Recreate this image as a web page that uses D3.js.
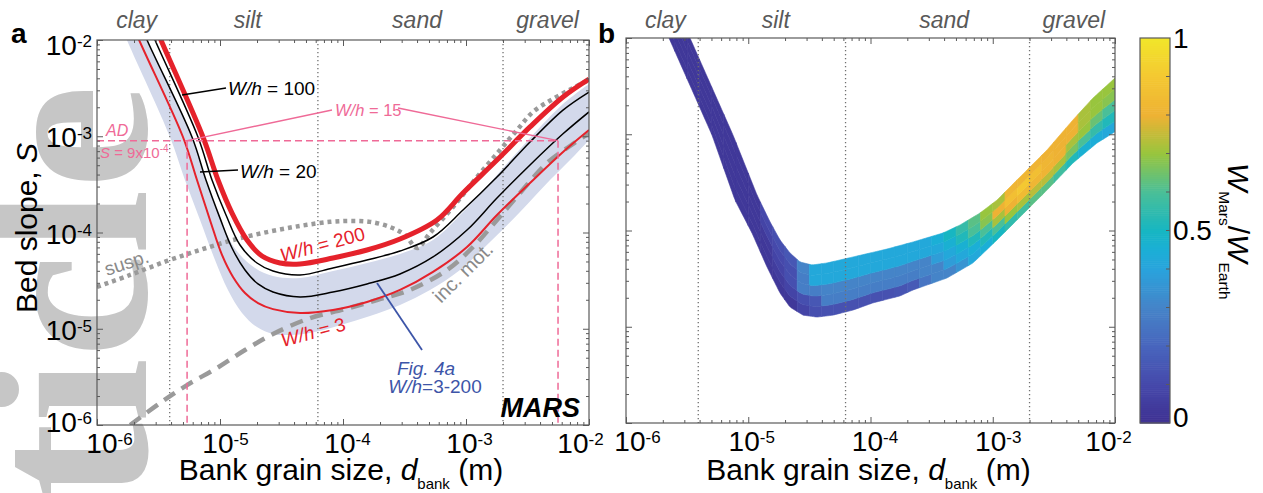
<!DOCTYPE html>
<html><head><meta charset="utf-8">
<script src="https://cdn.jsdelivr.net/npm/d3@7"></script>
<style>
html,body{margin:0;padding:0;background:#fff;}
svg{display:block;}
</style></head><body>
<svg id="chart" width="1263" height="493" font-family="Liberation Sans, Arial, sans-serif"></svg>
<script>
// ---------------- DATA ----------------
const categories = ["clay","silt","sand","gravel"];
const categoryBoundsD = [3.9e-6, 6.25e-5, 2e-3];
const categoryLabelD = [2.1e-6, 1.68e-5, 4.0e-4, 4.6e-3];
const majorTicks = [1e-6,1e-5,1e-4,1e-3,1e-2];
const tickExponents = ["-6","-5","-4","-3","-2"];

// W/h = 3 (thin red)
const wh3D = [1.60e-6,2.20e-6,5.00e-6,6.50e-6,8.29e-6,1.038e-5,1.276e-5,1.597e-5,2.037e-5,2.697e-5,4.472e-5,8.291e-5,1.567e-4,2.907e-4,5.392e-4,1.019e-3,1.786e-3,3.314e-3,6.146e-3,1.0e-2];
const wh3S = [2.60e-2,1.0e-2,9.82e-4,3.51e-4,1.35e-4,5.84e-5,3.45e-5,2.35e-5,1.85e-5,1.60e-5,1.46e-5,1.57e-5,1.90e-5,2.53e-5,3.89e-5,7.07e-5,1.52e-4,3.27e-4,6.86e-4,1.16e-3];
// W/h = 20 (black)
const wh20D = [1.86e-6,2.55e-6,5.92e-6,7.69e-6,1.0e-5,1.252e-5,1.597e-5,2.037e-5,2.697e-5,4.472e-5,8.291e-5,1.567e-4,2.907e-4,5.392e-4,1.019e-3,1.786e-3,3.314e-3,6.146e-3,1.0e-2];
const wh20S = [2.60e-2,1.0e-2,9.82e-4,3.51e-4,1.41e-4,6.90e-5,4.08e-5,2.92e-5,2.41e-5,2.14e-5,2.41e-5,2.92e-5,3.71e-5,5.57e-5,1.06e-4,2.28e-4,5.03e-4,1.06e-3,1.79e-3];
// W/h = 100 (black)
const wh100D = [2.15e-6,2.96e-6,6.62e-6,8.61e-6,1.119e-5,1.454e-5,1.999e-5,2.697e-5,4.472e-5,8.291e-5,1.567e-4,2.907e-4,5.392e-4,9.454e-4,1.786e-3,3.314e-3,6.146e-3,1.0e-2];
const wh100S = [2.60e-2,1.0e-2,9.82e-4,3.51e-4,1.52e-4,7.42e-5,4.82e-5,3.98e-5,3.62e-5,4.28e-5,5.18e-5,6.42e-5,8.98e-5,1.71e-4,3.77e-4,8.71e-4,1.87e-3,2.88e-3];
// W/h = 200 (thick red)
const wh200D = [2.41e-6,3.31e-6,7.27e-6,9.63e-6,1.252e-5,1.658e-5,2.195e-5,3.075e-5,4.472e-5,8.291e-5,1.567e-4,2.907e-4,5.810e-4,9.454e-4,1.786e-3,3.314e-3,6.146e-3,1.0e-2];
const wh200S = [2.60e-2,1.0e-2,9.82e-4,3.51e-4,1.59e-4,8.36e-5,5.70e-5,4.82e-5,4.71e-5,5.43e-5,6.58e-5,8.56e-5,1.35e-4,2.57e-4,5.66e-4,1.25e-3,2.56e-3,3.93e-3];
// Fig. 4a range band (W/h = 3-200)
const bandUpD = [1.86e-6,2.55e-6,5.92e-6,7.69e-6,1.0e-5,1.349e-5,1.926e-5,2.697e-5,4.472e-5,8.291e-5,1.567e-4,2.907e-4,5.392e-4,9.454e-4,1.786e-3,3.314e-3,6.146e-3,1.0e-2];
const bandUpS = [2.60e-2,1.0e-2,9.82e-4,3.51e-4,1.41e-4,6.58e-5,4.28e-5,3.53e-5,3.37e-5,3.98e-5,4.82e-5,5.98e-5,8.36e-5,1.63e-4,3.96e-4,9.59e-4,2.16e-3,3.49e-3];
const bandLoD = [1.28e-6,1.75e-6,3.92e-6,5.19e-6,6.88e-6,9.11e-6,1.161e-5,1.510e-5,1.999e-5,2.697e-5,3.708e-5,5.392e-5,9.454e-5,1.658e-4,2.907e-4,5.097e-4,8.937e-4,1.567e-3,2.748e-3,4.818e-3,7.694e-3,1.0e-2];
const bandLoS = [2.60e-2,1.0e-2,9.82e-4,3.51e-4,1.35e-4,5.18e-5,2.53e-5,1.46e-5,1.04e-5,8.82e-6,8.61e-6,9.03e-6,1.09e-5,1.36e-5,1.77e-5,2.53e-5,4.08e-5,7.97e-5,1.63e-4,3.51e-4,6.39e-4,9.14e-4];
// suspension threshold (dotted grey)
const suspD = [1e-6,1.86e-6,3.708e-6,6.88e-6,1.276e-5,2.411e-5,4.472e-5,7.842e-5,1.140e-4,1.658e-4,2.411e-4,3.193e-4,3.996e-4,5.097e-4,7.842e-4,1.229e-3,1.890e-3,2.598e-3,3.505e-3,5.097e-3,7.411e-3,1e-2];
const suspS = [2.72e-5,3.62e-5,5.06e-5,6.58e-5,8.36e-5,1.01e-4,1.17e-4,1.29e-4,1.32e-4,1.29e-4,1.14e-4,9.42e-5,6.90e-5,9.88e-5,1.84e-4,3.77e-4,7.20e-4,1.16e-3,1.79e-3,2.44e-3,3.17e-3,3.84e-3];
// incipient motion (dashed grey)
const motD = [1.86e-6,3.252e-6,5.392e-6,9.454e-6,1.597e-5,2.697e-5,5.392e-5,1.038e-4,1.890e-4,3.505e-4,7.007e-4,1.140e-3,1.786e-3,2.748e-3,4.555e-3,7.007e-3,1e-2];
const motS = [1e-6,1.69e-6,2.60e-6,3.91e-6,6.01e-6,8.82e-6,1.29e-5,1.60e-5,1.99e-5,2.53e-5,4.08e-5,7.07e-5,1.35e-4,2.57e-4,5.27e-4,7.92e-4,1.08e-3];
// alluvial-deposit annotation (W/h = 15)
const adS = 9e-4;
const adD = [5.4e-6, 5.6e-3];

// Panel b: solution region edges
const bUpD = [2.424e-6,3.338e-6,7.504e-6,1.179e-5,1.507e-5,1.818e-5,2.195e-5,2.651e-5,3.323e-5,4.409e-5,7.193e-5,1.365e-4,2.227e-4,3.917e-4,5.397e-4,7.867e-4,1.083e-3,1.671e-3,2.779e-3,4.533e-3,6.607e-3,1e-2];
const bUpS = [2.48e-2,1e-2,9.82e-4,2.34e-4,1.23e-4,7.97e-5,5.84e-5,4.71e-5,4.38e-5,4.60e-5,5.31e-5,6.42e-5,7.60e-5,9.42e-5,1.14e-4,1.52e-4,2.07e-4,3.60e-4,6.86e-4,1.41e-3,2.38e-3,3.84e-3];
const bLoD = [1.632e-6,2.247e-6,5.052e-6,7.791e-6,1.073e-5,1.424e-5,1.818e-5,2.195e-5,2.805e-5,3.650e-5,4.935e-5,7.193e-5,1.048e-4,1.743e-4,2.227e-4,4.225e-4,6.893e-4,1.083e-3,1.671e-3,2.779e-3,4.533e-3,7.124e-3,1e-2];
const bLoS = [2.48e-2,1e-2,9.82e-4,2.07e-4,9.42e-5,4.18e-5,2.24e-5,1.60e-5,1.32e-5,1.26e-5,1.32e-5,1.49e-5,1.77e-5,2.09e-5,2.41e-5,3.21e-5,4.60e-5,7.97e-5,1.38e-4,2.63e-4,5.03e-4,8.11e-4,1.06e-3];
// W_Mars/W_Earth per grain-size column (log10 d from -5.7 step 0.1) and stratum (bottom -> top)
const ratioS0 = [0.03,0.03,0.03,0.03,0.03,0.03,0.03,0.03,0.03,0.03, 0.03,0.08,0.12,0.13,0.13,0.13,0.13,0.13,0.13,0.14, 0.16,0.25,0.30,0.30,0.35,0.42,0.45,0.50,0.55,0.58, 0.62,0.62,0.58,0.52,0.46,0.44,0.42];
const ratioS1 = [0.03,0.03,0.03,0.03,0.03,0.03,0.03,0.03,0.03,0.05, 0.08,0.12,0.15,0.28,0.28,0.28,0.28,0.28,0.28,0.28, 0.28,0.30,0.30,0.38,0.42,0.45,0.52,0.60,0.70,0.72, 0.74,0.74,0.72,0.66,0.60,0.56,0.52];
const ratioS2 = [0.03,0.03,0.03,0.03,0.03,0.03,0.03,0.03,0.04,0.08, 0.12,0.28,0.28,0.30,0.30,0.30,0.30,0.30,0.30,0.30, 0.30,0.30,0.38,0.42,0.46,0.52,0.60,0.72,0.80,0.84, 0.82,0.81,0.80,0.72,0.70,0.64,0.60];
const ratioS3 = [0.03,0.03,0.03,0.03,0.03,0.03,0.03,0.03,0.08,0.10, 0.12,0.28,0.42,0.42,0.42,0.42,0.42,0.42,0.42,0.42, 0.42,0.42,0.42,0.46,0.52,0.60,0.68,0.80,0.86,0.90, 0.86,0.82,0.80,0.80,0.72,0.70,0.68];
const ratioS4 = [0.03,0.03,0.03,0.03,0.03,0.03,0.03,0.03,0.10,0.12, 0.15,0.30,0.42,0.42,0.42,0.42,0.42,0.42,0.42,0.42, 0.42,0.42,0.45,0.50,0.56,0.62,0.70,0.72,0.82,0.82, 0.81,0.80,0.80,0.80,0.72,0.70,0.70];
const colorbarTicks = [0,0.5,1];
// colormap (parula-like)
const cmapStops = [0,0.1,0.2,0.3,0.4,0.45,0.5,0.6,0.7,0.8,0.9,1.0];
const cmapColors = ["#3e3091","#4649ab","#4865bd","#4584c8","#29a3dc","#1bafd6","#17b6c2","#4abf98","#98c53e","#eeb234","#f4c832","#f1e62a"];

// ---------------- DRAW ----------------
const svg = d3.select("#chart");
const RED = "#e5222b", GREY = "#9a9a9a", PINK = "#ef6a97", BLUE = "#3d55a8", LAV = "#d3d9eb", AXC = "#5a5a5a";

// watermark
svg.append("text").attr("transform","translate(146,85) rotate(-90)").attr("text-anchor","end")
  .attr("font-family","Liberation Serif, Times New Roman, serif").attr("font-weight","bold")
  .attr("font-size",234).attr("fill","#c6c6c6").text("Article");

const A = {left:97, right:589, top:40, bottom:425};
const B = {left:626, right:1115, top:38, bottom:423};
const xa = d3.scaleLog().domain([1e-6,1e-2]).range([A.left,A.right]);
const ya = d3.scaleLog().domain([1e-6,1e-2]).range([A.bottom,A.top]);
const xb = d3.scaleLog().domain([1e-6,1e-2]).range([B.left,B.right]);
const yb = d3.scaleLog().domain([1e-6,1e-2]).range([B.bottom,B.top]);
const cmap = d3.scaleLinear().domain(cmapStops).range(cmapColors).clamp(true);

const defs = svg.append("defs");
defs.append("clipPath").attr("id","clipA").append("rect").attr("x",A.left).attr("y",A.top).attr("width",A.right-A.left).attr("height",A.bottom-A.top);
defs.append("clipPath").attr("id","clipB").append("rect").attr("x",B.left).attr("y",B.top).attr("width",B.right-B.left).attr("height",B.bottom-B.top);

const zip = (ds, ss) => ds.map((d,i)=>[d, ss[i]]);
const lineA = d3.line().x(p=>xa(p[0])).y(p=>ya(p[1])).curve(d3.curveCatmullRom.alpha(0.5));

// ---- panel a ----
const ga = svg.append("g").attr("clip-path","url(#clipA)");
{
  const up = zip(bandUpD, bandUpS), lo = zip(bandLoD, bandLoS).reverse();
  const p = lineA(up) + "L" + lineA(lo).slice(1) + "Z";
  ga.append("path").attr("d", p).attr("fill", LAV);
}
function gridLines(g, x, box){
  g.selectAll(null).data(categoryBoundsD).enter().append("line")
    .attr("x1",d=>x(d)).attr("x2",d=>x(d)).attr("y1",box.top).attr("y2",box.bottom)
    .attr("stroke","#707070").attr("stroke-width",1.3).attr("stroke-dasharray","1.3,2.7");
}
gridLines(ga, xa, A);
ga.append("path").attr("d", lineA(zip(motD,motS))).attr("fill","none").attr("stroke",GREY)
  .attr("stroke-width",4.5).attr("stroke-dasharray","13,8");
ga.append("path").attr("d", lineA(zip(suspD,suspS))).attr("fill","none").attr("stroke",GREY)
  .attr("stroke-width",4.5).attr("stroke-dasharray","4,4");
ga.append("path").attr("d", lineA(zip(wh3D,wh3S))).attr("fill","none").attr("stroke",RED).attr("stroke-width",2);
ga.append("path").attr("d", lineA(zip(wh20D,wh20S))).attr("fill","none").attr("stroke","#000").attr("stroke-width",1.5);
ga.append("path").attr("d", lineA(zip(wh100D,wh100S))).attr("fill","none").attr("stroke","#000").attr("stroke-width",1.5);
ga.append("path").attr("d", lineA(zip(wh200D,wh200S))).attr("fill","none").attr("stroke",RED).attr("stroke-width",5);

// pink annotation
ga.append("line").attr("x1",xa(1e-6)).attr("x2",xa(adD[1])).attr("y1",ya(adS)).attr("y2",ya(adS))
  .attr("stroke",PINK).attr("stroke-width",1.5).attr("stroke-dasharray","7,4");
ga.selectAll(null).data(adD).enter().append("line")
  .attr("x1",d=>xa(d)).attr("x2",d=>xa(d)).attr("y1",ya(adS)).attr("y2",ya(1e-6))
  .attr("stroke",PINK).attr("stroke-width",1.5).attr("stroke-dasharray","7,4");
svg.append("line").attr("x1",xa(adD[0])).attr("y1",ya(adS)).attr("x2",332).attr("y2",110).attr("stroke",PINK).attr("stroke-width",1.4);
svg.append("line").attr("x1",398).attr("y1",108).attr("x2",xa(adD[1])).attr("y2",ya(adS)).attr("stroke",PINK).attr("stroke-width",1.4);
{
  const t = svg.append("text").attr("x",335).attr("y",116).attr("font-size",16.5).attr("fill",PINK);
  t.append("tspan").attr("font-style","italic").text("W/h");
  t.append("tspan").text(" = 15");
  svg.append("text").attr("x",106).attr("y",136).attr("font-size",16).attr("font-style","italic").attr("fill",PINK).text("AD");
  const t2 = svg.append("text").attr("x",100).attr("y",158).attr("font-size",15).attr("fill",PINK);
  t2.append("tspan").attr("font-style","italic").text("S");
  t2.append("tspan").text(" = 9x10");
  t2.append("tspan").attr("dy",-6).attr("font-size",10).text("-4");
}
function whLabel(x, y, val, fs, fill, rot){
  const t = svg.append("text").attr("transform",`translate(${x},${y}) rotate(${rot||0})`)
    .attr("font-size",fs).attr("fill",fill);
  t.append("tspan").attr("font-style","italic").text("W/h");
  t.append("tspan").text(" = " + val);
  return t;
}
svg.append("line").attr("x1",182).attr("y1",95).attr("x2",226).attr("y2",88).attr("stroke","#000").attr("stroke-width",1.3);
whLabel(228, 95, "100", 19, "#000");
svg.append("line").attr("x1",200).attr("y1",172).attr("x2",238).attr("y2",170).attr("stroke","#000").attr("stroke-width",1.3);
whLabel(240, 178, "20", 19, "#000");
whLabel(282, 262, "200", 19, RED, -15);
whLabel(283, 347, "3", 19, RED, -15);
svg.append("text").attr("transform","translate(107,276) rotate(-18)").attr("font-size",19).attr("fill","#8a8a8a").text("susp.");
svg.append("text").attr("transform","translate(441,304) rotate(-45)").attr("font-size",20).attr("fill","#8a8a8a").text("inc. mot.");
svg.append("line").attr("x1",377).attr("y1",283).attr("x2",422).attr("y2",350).attr("stroke",BLUE).attr("stroke-width",1.8);
svg.append("text").attr("x",426).attr("y",375).attr("text-anchor","middle").attr("font-size",19).attr("font-style","italic").attr("fill",BLUE).text("Fig. 4a");
{
  const t = svg.append("text").attr("x",435).attr("y",393).attr("text-anchor","middle").attr("font-size",19).attr("fill",BLUE);
  t.append("tspan").attr("font-style","italic").text("W/h");
  t.append("tspan").text("=3-200");
}
svg.append("text").attr("x",580).attr("y",417).attr("text-anchor","end").attr("font-size",27)
  .attr("font-weight","bold").attr("font-style","italic").attr("fill","#000").text("MARS");

// ---- panel b ----
const gb = svg.append("g").attr("clip-path","url(#clipB)");
function interpLog(ds, ss, d){
  const ld = Math.log10(d);
  const lx = ds.map(v=>Math.log10(v)), ly = ss.map(v=>Math.log10(v));
  let i = 0;
  if (ld >= lx[lx.length-1]) i = lx.length-2;
  else if (ld > lx[0]) { while (lx[i+1] < ld) i++; }
  const t = (ld - lx[i])/(lx[i+1]-lx[i]);
  return ly[i] + t*(ly[i+1]-ly[i]);
}
const strata = [ratioS0, ratioS1, ratioS2, ratioS3, ratioS4];
const nS = strata.length;
const cells = [];
ratioS0.forEach((_, i) => {
  const l0 = -5.7 + 0.1*i, l1 = l0 + 0.1;
  strata.forEach((arr, j) => cells.push({l0, l1, f0:j/nS, f1:(j+1)/nS, v:arr[i]}));
});
gb.selectAll(null).data(cells).enter().append("path")
  .attr("d", c => {
    const n = 6, top = [], bot = [];
    for (let k=0;k<=n;k++){
      const ld = c.l0 + (c.l1-c.l0)*k/n, d = Math.pow(10, ld);
      const lo = interpLog(bLoD,bLoS,d), up = interpLog(bUpD,bUpS,d);
      bot.push([xb(d), yb(Math.pow(10, lo + c.f0*(up-lo)))]);
      top.push([xb(d), yb(Math.pow(10, lo + c.f1*(up-lo)))]);
    }
    return "M" + bot.map(p=>p.join(",")).join("L") + "L" + top.reverse().map(p=>p.join(",")).join("L") + "Z";
  })
  .attr("fill", c => cmap(c.v)).attr("stroke", c => cmap(c.v)).attr("stroke-width",0.6);
gridLines(gb, xb, B);

// ---- axes ----
const minors = [];
for (let k=-6;k<-2;k++) for (let m=2;m<=9;m++) minors.push(m*Math.pow(10,k));
function drawAxes(x, y, box, xShift, yLabels){
  const g = svg.append("g");
  const mk = (fn, sc, vals, size, tr, keepText) => {
    const ax = g.append("g").attr("transform",tr).call(fn(sc).tickValues(vals).tickSize(-size).tickFormat(()=>""));
    ax.select(".domain").remove();
    ax.attr("font-family",null).attr("font-size",null);
    ax.selectAll(".tick line").attr("stroke",AXC).attr("stroke-width",1);
    if (!keepText) ax.selectAll(".tick text").remove();
    return ax;
  };
  [[minors,3],[majorTicks,6]].forEach(([vals,sz])=>{
    mk(d3.axisTop, x, vals, sz, `translate(0,${box.top})`);
    mk(d3.axisRight, y, vals, sz, `translate(${box.right},0)`);
    mk(d3.axisLeft, y, vals, sz, `translate(${box.left},0)`);
  });
  mk(d3.axisBottom, x, minors, 3, `translate(0,${box.bottom})`);
  const bx = mk(d3.axisBottom, x, majorTicks, 6, `translate(0,${box.bottom})`, true);
  bx.selectAll(".tick text").each(function(d,i){
    const t = d3.select(this).attr("y",28).attr("dy",null).attr("dx",xShift[i])
      .attr("font-size",28).attr("fill","#000");
    t.text(null);
    t.append("tspan").text("10");
    t.append("tspan").attr("dy",-8).attr("font-size",17).text(tickExponents[i]);
  });
  if (yLabels){
    const yShift = [7,11,11,11,15];
    g.selectAll(null).data(majorTicks).enter().append("text")
      .attr("x", box.left-5).attr("y",(d,i)=>y(d)+yShift[i]).attr("text-anchor","end")
      .attr("font-size",28).attr("fill","#000")
      .each(function(d,i){
        const t = d3.select(this);
        t.append("tspan").text("10");
        t.append("tspan").attr("dy",-8).attr("font-size",17).text(tickExponents[i]);
      });
  }
  g.append("rect").attr("x",box.left).attr("y",box.top).attr("width",box.right-box.left).attr("height",box.bottom-box.top)
    .attr("fill","none").attr("stroke",AXC).attr("stroke-width",1.2);
  g.selectAll(null).data(categories).enter().append("text")
    .attr("x",(d,i)=>x(categoryLabelD[i])).attr("y",28).attr("text-anchor","middle")
    .attr("font-size",23).attr("font-style","italic").attr("fill","#595959").text(d=>d);
  const t = g.append("text").attr("x",(box.left+box.right)/2 - 2).attr("y",480).attr("text-anchor","middle").attr("font-size",30).attr("fill","#000");
  t.append("tspan").text("Bank grain size, ");
  t.append("tspan").attr("font-style","italic").text("d");
  t.append("tspan").attr("font-size",15).attr("dy",9).text("bank");
  t.append("tspan").attr("dy",-9).text(" (m)");
}
drawAxes(xa, ya, A, [12,5,4,3,-9], true);
drawAxes(xb, yb, B, [11,3,4,5,-7], false);

{
  const t = svg.append("text").attr("transform","translate(37,228) rotate(-90)").attr("text-anchor","middle").attr("font-size",30).attr("fill","#000");
  t.append("tspan").text("Bed slope, ");
  t.append("tspan").attr("font-style","italic").text("S");
}
svg.append("text").attr("x",11).attr("y",43).attr("font-size",28).attr("font-weight","bold").text("a");
svg.append("text").attr("x",598).attr("y",43).attr("font-size",28).attr("font-weight","bold").text("b");

// ---- colorbar ----
const CB = {left:1140, right:1170, top:38, bottom:423};
const cb = d3.scaleLinear().domain([0,1]).range([CB.bottom, CB.top]);
const cbSteps = d3.range(0,1,0.005);
svg.append("g").selectAll("rect").data(cbSteps).enter().append("rect")
  .attr("x",CB.left).attr("width",CB.right-CB.left)
  .attr("y",d=>cb(d+0.005)).attr("height",d=>cb(d)-cb(d+0.005)+0.6)
  .attr("fill",d=>cmap(d+0.0025));
svg.append("rect").attr("x",CB.left).attr("y",CB.top).attr("width",CB.right-CB.left).attr("height",CB.bottom-CB.top)
  .attr("fill","none").attr("stroke",AXC).attr("stroke-width",1.2);
svg.append("g").selectAll("line").data(d3.range(1,10).map(k=>k/10)).enter().append("line")
  .attr("x1",CB.right).attr("x2",CB.right-4).attr("y1",d=>cb(d)).attr("y2",d=>cb(d)).attr("stroke",AXC);
const cbShift = [4,9,10];
svg.append("g").selectAll("text").data(colorbarTicks).enter().append("text")
  .attr("x",CB.right+3).attr("y",(d,i)=>cb(d)+cbShift[i]).attr("font-size",28).attr("fill","#000").text(d=>d);
{
  const t = svg.append("text").attr("transform","translate(1228,163) rotate(90)").attr("font-size",30).attr("fill","#000");
  t.append("tspan").attr("font-style","italic").text("W");
  t.append("tspan").attr("font-size",15.5).attr("dy",9).text("Mars");
  t.append("tspan").attr("dy",-9).text("/");
  t.append("tspan").attr("font-style","italic").text("W");
  t.append("tspan").attr("font-size",15.5).attr("dy",9).text("Earth");
}
</script>
</body></html>
